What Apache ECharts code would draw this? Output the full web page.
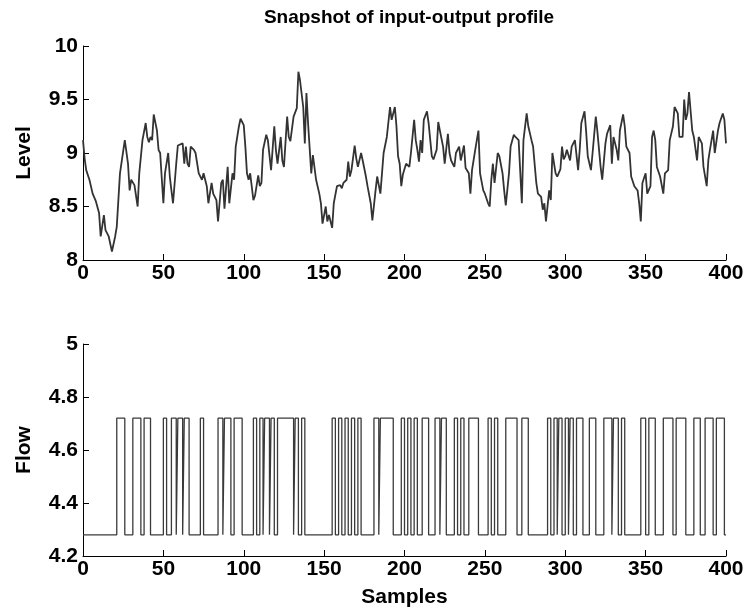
<!DOCTYPE html>
<html><head><meta charset="utf-8">
<script src="https://cdn.jsdelivr.net/npm/echarts@6/dist/echarts.min.js"></script>
<style>html,body{margin:0;padding:0;background:#fff}#c{width:751px;height:611px}</style>
</head><body><div id="c"></div>
<script>
const titleText = 'Snapshot of input-output profile';
const levelSamples = [0,1,2,4,6,8,10,11,13,14,16,18,20,21,23,26,28,29,30,32,34,35,37,39,40,41,42,43,44,46,47,48,50,51,53,54,55,56,58,59,62,63,64,65,66,67,69,70,72,74,75,77,78,80,81,83,84,86,87,88,90,91,93,94,95,96,97,98,100,101,102,103,104,106,107,109,110,111,112,114,115,117,119,120,121,123,124,125,127,128,129,131,133,134,135,137,138,139,140,142,143,145,147,148,149,151,152,153,155,156,158,160,161,162,164,165,166,167,169,170,171,173,174,176,177,179,180,182,183,185,186,187,189,191,192,194,195,196,197,198,199,200,201,203,204,206,207,208,209,210,211,212,214,215,217,218,220,221,222,224,225,227,228,229,231,232,234,235,237,238,240,241,242,244,245,246,247,249,250,252,253,254,255,256,258,259,261,262,263,265,266,268,269,271,273,274,276,277,279,280,282,283,285,286,287,288,290,291,292,294,295,297,298,299,300,301,303,304,306,308,309,310,312,313,314,316,317,319,320,322,323,325,326,328,329,330,332,333,334,336,337,338,340,341,343,345,346,347,348,350,351,353,354,355,356,357,359,361,362,364,365,367,368,370,371,373,374,375,376,377,379,380,382,383,385,386,388,389,390,392,393,395,396,398,399,400];
const levelValues = [9.12,8.95,8.84,8.75,8.62,8.55,8.44,8.22,8.42,8.28,8.22,8.08,8.22,8.31,8.81,9.12,8.9,8.65,8.75,8.7,8.5,8.81,9.12,9.28,9.15,9.1,9.15,9.12,9.36,9.21,9.03,9.0,8.53,8.81,9.0,8.78,8.65,8.53,8.9,9.07,9.09,8.9,9.06,8.9,8.87,9.06,9.03,9.0,8.81,8.75,8.81,8.69,8.53,8.72,8.62,8.56,8.36,8.72,8.75,8.48,8.87,8.53,8.81,8.75,9.06,9.06,9.25,9.32,9.26,9.06,8.81,8.75,8.81,8.56,8.6,8.79,8.69,8.72,9.03,9.17,9.12,8.84,9.25,9.03,8.9,9.15,8.93,8.87,9.34,9.15,9.11,9.34,9.42,9.76,9.68,9.43,9.09,9.56,9.28,8.81,8.98,8.75,8.62,8.53,8.34,8.5,8.36,8.42,8.3,8.53,8.69,8.7,8.67,8.72,8.75,8.92,8.78,8.84,9.07,8.95,8.87,9.0,8.93,8.78,8.69,8.53,8.37,8.65,8.78,8.62,8.81,9.0,9.15,9.43,9.31,9.43,9.25,8.97,8.9,8.69,8.8,8.85,8.9,8.87,9.0,9.31,9.12,9.03,8.92,9.12,9.0,9.31,9.39,9.28,8.97,8.94,9.03,9.29,9.21,9.06,8.9,9.18,9.0,8.93,8.87,9.0,9.06,8.93,9.07,8.86,8.81,8.62,8.84,9.03,9.12,9.21,8.81,8.65,8.62,8.53,8.5,8.75,8.9,8.72,9.0,8.97,8.81,8.65,8.51,8.81,9.06,9.17,9.15,9.12,8.53,9.12,9.37,9.25,9.12,9.06,8.72,8.62,8.59,8.47,8.53,8.36,8.65,8.56,9.0,8.81,8.78,8.85,9.06,8.94,8.97,9.03,8.93,9.06,9.12,8.84,9.03,9.28,9.39,9.2,8.97,8.84,9.0,9.34,9.2,8.87,8.75,9.09,9.18,9.26,8.9,9.15,9.03,8.93,9.21,9.36,9.25,9.06,9.0,8.78,8.69,8.65,8.53,8.36,8.72,8.81,8.62,8.69,9.15,9.21,9.12,8.87,8.78,8.62,8.81,8.84,9.12,9.25,9.43,9.37,9.15,9.15,9.5,9.31,9.37,9.57,9.21,9.15,8.93,9.15,9.09,8.87,8.69,8.93,9.03,9.21,9.0,9.21,9.28,9.37,9.31,9.09];
const flowLow = 4.28;
const flowHigh = 4.72;
const flowHighStart = [21,31,38,50,55,59,63,73,84,88,94,106,110,113,117,121,132,136,155,159,163,167,171,181,185,198,202,206,211,219,223,231,235,240,252,256,263,273,289,293,296,300,303,307,315,324,330,335,347,352,361,369,380,387,394];
const flowHighEnd   = [26,36,42,52,58,62,66,75,87,92,99,108,112,116,119,131,134,138,157,161,165,169,173,184,193,200,204,208,215,222,226,233,237,246,254,258,270,277,291,295,298,302,305,311,319,329,333,337,350,356,367,375,384,392,399];
const levelTicks = [8, 8.5, 9, 9.5, 10];
const flowTicks = [4.2, 4.4, 4.6, 4.8, 5];
const sampleTicks = [0, 50, 100, 150, 200, 250, 300, 350, 400];

const levelData = levelSamples.map((s, i) => [s, levelValues[i]]);
const flowData = [[0, flowLow]];
flowHighStart.forEach((s, i) => { flowData.push([s, flowHigh]); flowData.push([flowHighEnd[i], flowLow]); });
flowData.push([400, flowLow]);

const FONT = "'Liberation Sans', Arial, Helvetica, sans-serif";
const lab = {color: '#000', fontWeight: 'bold', fontSize: 21, fontFamily: FONT};
function xAx(idx, name) {
  return {
    gridIndex: idx, type: 'value', min: sampleTicks[0], max: sampleTicks[sampleTicks.length-1], interval: 50,
    name: name, nameLocation: 'middle', nameGap: 31,
    nameTextStyle: Object.assign({}, lab),
    axisLine: {show: true, onZero: false, lineStyle: {color: '#000', width: 1}},
    axisTick: {show: true, inside: true, length: 6, lineStyle: {color: '#000'}},
    axisLabel: Object.assign({margin: 3}, lab),
    splitLine: {show: false}
  };
}
function yAx(idx, name, ticks, interval) {
  return {
    gridIndex: idx, type: 'value', min: ticks[0], max: ticks[ticks.length-1], interval: interval,
    name: name, nameLocation: 'middle', nameGap: 48, nameRotate: 90,
    nameTextStyle: Object.assign({}, lab),
    axisLine: {show: true, onZero: false, lineStyle: {color: '#000', width: 1}},
    axisTick: {show: true, inside: true, length: 6, lineStyle: {color: '#000'}},
    axisLabel: Object.assign({margin: 5}, lab),
    splitLine: {show: false}
  };
}
const chart = echarts.init(document.getElementById('c'), null, {renderer: 'canvas'});
chart.setOption({
  backgroundColor: '#fff',
  animation: false,
  title: {text: titleText, left: 404, top: 3, textAlign: 'center',
    textStyle: {color: '#000', fontWeight: 'bold', fontSize: 19, fontFamily: FONT}},
  grid: [
    {left: 83, top: 46, width: 643, height: 214},
    {left: 83, top: 344, width: 643, height: 212}
  ],
  xAxis: [xAx(0, ''), xAx(1, 'Samples')],
  yAxis: [yAx(0, 'Level', levelTicks, 0.5), yAx(1, 'Flow', flowTicks, 0.2)],
  series: [
    {type: 'line', xAxisIndex: 0, yAxisIndex: 0, data: levelData, showSymbol: false,
      lineStyle: {color: '#333', width: 1.8}},
    {type: 'line', xAxisIndex: 1, yAxisIndex: 1, data: flowData, step: 'end', showSymbol: false,
      lineStyle: {color: '#3a3a3a', width: 1.3}}
  ]
});
</script></body></html>
